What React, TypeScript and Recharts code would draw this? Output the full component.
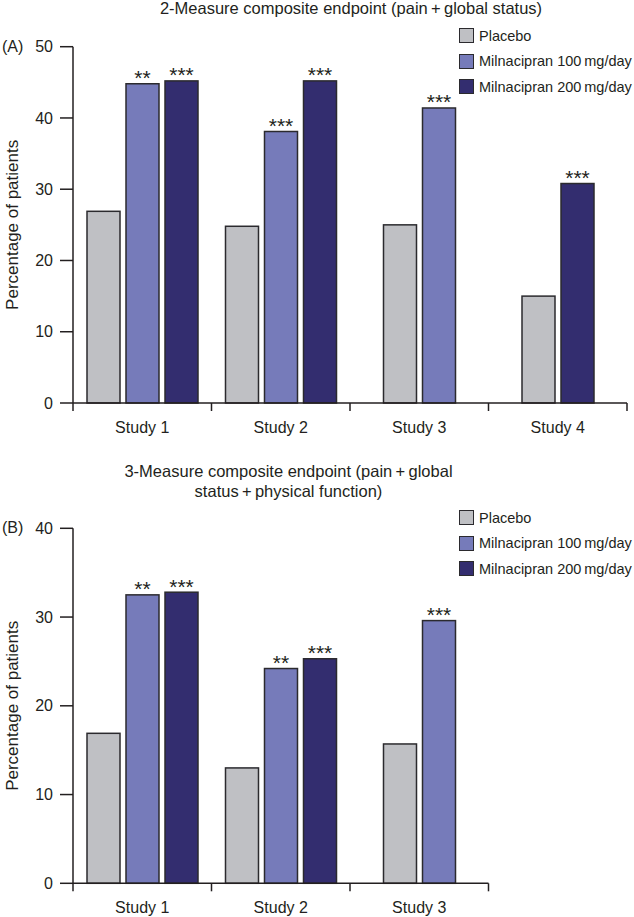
import React from 'react';
import { BarChart, Bar, XAxis, YAxis, Legend } from 'recharts';

// ---------- data ----------
const studiesA = ['Study 1', 'Study 2', 'Study 3', 'Study 4'];
const placeboA: (number | null)[] = [26.9, 24.8, 25.0, 15.0];
const mg100A: (number | null)[] = [44.8, 38.1, 41.4, null];
const mg200A: (number | null)[] = [45.2, 45.2, null, 30.8];
const stars100A = ['**', '***', '***', ''];
const stars200A = ['***', '***', '', '***'];
const yTicksA = [0, 10, 20, 30, 40, 50];

const studiesB = ['Study 1', 'Study 2', 'Study 3'];
const placeboB: (number | null)[] = [16.9, 13.0, 15.7];
const mg100B: (number | null)[] = [32.5, 24.2, 29.6];
const mg200B: (number | null)[] = [32.8, 25.3, null];
const stars100B = ['**', '**', '***'];
const stars200B = ['***', '***', ''];
const yTicksB = [0, 10, 20, 30, 40];

const seriesNames = ['Placebo', 'Milnacipran 100\u2009mg/day', 'Milnacipran 200\u2009mg/day'];
const titleA = '2-Measure composite endpoint (pain\u2009+\u2009global status)';
const titleB1 = '3-Measure composite endpoint (pain\u2009+\u2009global';
const titleB2 = 'status\u2009+\u2009physical function)';
const yLabel = 'Percentage of patients';

// ---------- style ----------
const FONT = '"Liberation Sans", Arial, Helvetica, sans-serif';
const INK = '#231f20';
const BAR_STROKE = '#2b2a2e';
const COLORS = ['#bfc0c4', '#767bba', '#332d6f'];
const BAR_SIZE = 33;
const BAR_GAP = 6;
const KEYS = ['placebo', 'mg100', 'mg200'];
const STAR_KEYS = ['', 's100', 's200'];

const buildRows = (
  studies: string[], p: (number | null)[], a: (number | null)[], b: (number | null)[],
  sa: string[], sb: string[]
) => studies.map((s, i) => ({ study: s, placebo: p[i], mg100: a[i], mg200: b[i], s100: sa[i], s200: sb[i] }));

const dataA = buildRows(studiesA, placeboA, mg100A, mg200A, stars100A, stars200A);
const dataB = buildRows(studiesB, placeboB, mg100B, mg200B, stars100B, stars200B);

// bar shape: re-centres the bars of a study when one series is missing, and draws the significance stars
const makeShape = (si: number) => (props: any) => {
  const { x, y, width, height, payload } = props;
  if (!payload) return null;
  const v = payload[KEYS[si]];
  if (v == null || !(height > 0)) return null;
  const present = KEYS.map((k, i) => (payload[k] != null ? i : -1)).filter((i) => i >= 0);
  const n = present.length;
  const j = present.indexOf(si);
  const centre = (KEYS.length - 1) / 2;
  const desired = centre - (n - 1) / 2 + j;
  const dx = (desired - si) * (width + BAR_GAP);
  const star = STAR_KEYS[si] ? payload[STAR_KEYS[si]] : '';
  return (
    <g>
      <rect x={x + dx} y={y} width={width} height={height} fill={COLORS[si]} stroke={BAR_STROKE} strokeWidth={1.5} />
      {star ? (
        <text x={x + dx + width / 2} y={y + 1.5} textAnchor="middle" fontSize={21} fontFamily={FONT} fill={INK}>
          {star}
        </text>
      ) : null}
    </g>
  );
};

// x tick: label at the band centre, small tick marks at the band boundaries
const makeXTick = (count: number) => (props: any) => {
  const { x, y, payload, index } = props;
  const half = payload && payload.offset ? payload.offset : 69.25;
  return (
    <g>
      <line x1={x - half} y1={y} x2={x - half} y2={y + 8} stroke={INK} strokeWidth={1.5} />
      {index === count - 1 ? <line x1={x + half} y1={y} x2={x + half} y2={y + 8} stroke={INK} strokeWidth={1.5} /> : null}
      <text x={x} y={y + 30} textAnchor="middle" fontSize={16} fontFamily={FONT} fill={INK}>
        {payload.value}
      </text>
    </g>
  );
};

const yLabelContent = (props: any) => {
  const vb = props.viewBox || {};
  const cy = (vb.y ?? 0) + (vb.height ?? 0) / 2;
  const cx = 13;
  return (
    <text
      x={cx}
      y={cy}
      transform={`rotate(-90 ${cx} ${cy})`}
      textAnchor="middle"
      dominantBaseline="central"
      fontSize={17}
      fontFamily={FONT}
      fill={INK}
    >
      {yLabel}
    </text>
  );
};

const LegendBox = () => (
  <div style={{ fontFamily: FONT, fontSize: 14.5, color: INK }}>
    {seriesNames.map((name, i) => (
      <div key={name} style={{ height: 25.5, display: 'flex', alignItems: 'center', whiteSpace: 'nowrap' }}>
        <span
          style={{
            display: 'inline-block',
            width: 13,
            height: 13,
            background: COLORS[i],
            border: `1.5px solid ${BAR_STROKE}`,
            marginRight: 5,
          }}
        />
        <span>{name}</span>
      </div>
    ))}
  </div>
);

const Panel = ({ data, ticks, max, width, height, margin, legendTop }: any) => (
  <BarChart width={width} height={height} data={data} margin={margin} barSize={BAR_SIZE} barGap={BAR_GAP}>
    <XAxis
      dataKey="study"
      axisLine={{ stroke: INK, strokeWidth: 1.5 }}
      tickLine={false}
      tickSize={0}
      tickMargin={0}
      height={30}
      interval={0}
      tick={makeXTick(data.length)}
    />
    <YAxis
      width={73}
      domain={[0, max]}
      ticks={ticks}
      interval={0}
      axisLine={{ stroke: INK, strokeWidth: 1.5 }}
      tickLine={{ stroke: INK, strokeWidth: 1.5 }}
      tickSize={13}
      tickMargin={7}
      tick={{ fontSize: 16, fontFamily: FONT, fill: INK }}
      label={{ content: yLabelContent }}
    />
    <Legend
      layout="vertical"
      align="center"
      verticalAlign="middle"
      wrapperStyle={{ position: 'absolute', top: legendTop, left: 459, width: 175, height: 80 }}
      content={() => <LegendBox />}
    />
    {KEYS.map((k, i) => (
      <Bar key={k} dataKey={k} name={seriesNames[i]} fill={COLORS[i]} shape={makeShape(i)} isAnimationActive={false} />
    ))}
  </BarChart>
);

const textStyle: React.CSSProperties = { position: 'absolute', fontFamily: FONT, color: INK, whiteSpace: 'nowrap' };

export default function App() {
  return (
    <div style={{ position: 'absolute', left: 0, top: 0, width: 634, height: 917, background: '#fff', overflow: 'hidden' }}>
      <div style={{ position: 'absolute', left: 0, top: 0 }}>
        <Panel
          data={dataA}
          ticks={yTicksA}
          max={50}
          width={634}
          height={445}
          margin={{ top: 46.7, right: 7, bottom: 12, left: 0 }}
          legendTop={22.75}
        />
      </div>
      <div style={{ position: 'absolute', left: 0, top: 445 }}>
        <Panel
          data={dataB}
          ticks={yTicksB}
          max={40}
          width={634}
          height={472}
          margin={{ top: 83.3, right: 145.5, bottom: 3.7, left: 0 }}
          legendTop={59.75}
        />
      </div>
      <div style={{ ...textStyle, left: 351, top: -2.3, transform: 'translateX(-50%)', fontSize: 16.5, lineHeight: '20px' }}>
        {titleA}
      </div>
      <div style={{ ...textStyle, left: 288.5, top: 461, transform: 'translateX(-50%)', fontSize: 16.5, lineHeight: '20px', textAlign: 'center' }}>
        <div>{titleB1}</div>
        <div>{titleB2}</div>
      </div>
      <div style={{ ...textStyle, left: 2, top: 37, fontSize: 16, lineHeight: '20px' }}>(A)</div>
      <div style={{ ...textStyle, left: 2, top: 518, fontSize: 16, lineHeight: '20px' }}>(B)</div>
    </div>
  );
}
